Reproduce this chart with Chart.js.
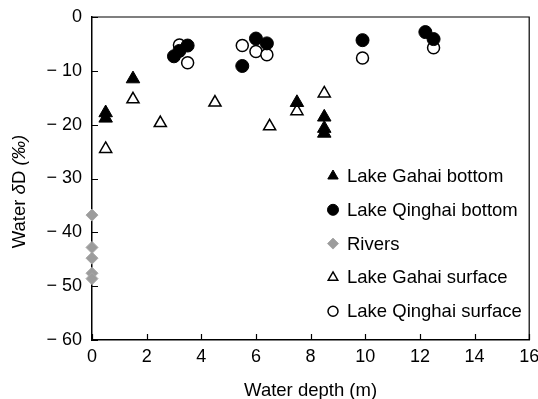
<!DOCTYPE html>
<html>
<head>
<meta charset="utf-8">
<script src="https://cdn.jsdelivr.net/npm/chart.js@4/dist/chart.umd.min.js"></script>
<style>
  html, body { margin: 0; padding: 0; background: #fff; }
  #wrap { width: 538px; height: 399px; }
</style>
</head>
<body>
<div id="wrap"><canvas id="isoChart" width="538" height="399"></canvas></div>
<script>
// data: depth (m) and water dD (per mil)
const gahaiBottomDepth = [0.5, 0.5, 1.5, 7.5, 8.5, 8.5, 8.5];
const gahaiBottomD = [-17.8, -18.8, -11.5, -15.9, -18.6, -20.7, -21.6];

const qinghaiBottomDepth = [3.0, 3.2, 3.5, 5.5, 6.0, 6.4, 9.9, 12.2, 12.5];
const qinghaiBottomD = [-7.3, -6.3, -5.3, -9.1, -4.0, -4.9, -4.3, -2.8, -4.1];

const riversDepth = [0, 0, 0, 0, 0];
const riversD = [-36.8, -42.8, -44.8, -47.6, -48.6];

const gahaiSurfaceDepth = [0.5, 1.5, 2.5, 4.5, 6.5, 7.5, 8.5];
const gahaiSurfaceD = [-24.5, -15.3, -19.7, -15.9, -20.3, -17.5, -14.2];

const qinghaiSurfaceDepth = [3.2, 3.5, 5.5, 6.0, 6.4, 9.9, 12.5];
const qinghaiSurfaceD = [-5.2, -8.5, -5.3, -6.4, -7.0, -7.6, -5.7];

const xTicks = [0, 2, 4, 6, 8, 10, 12, 14, 16];
const yTicks = [0, -10, -20, -30, -40, -50, -60];

const FONT = '"Liberation Sans", Arial, sans-serif';

function pts(xs, ys) {
    return xs.map((x, i) => ({ x: x, y: ys[i] }));
}

// inward tick marks + top/right frame
const frameTicks = {
    id: 'frameTicks',
    afterDraw(chart) {
        const { ctx, chartArea: a, scales } = chart;
        ctx.save();
        ctx.strokeStyle = '#000';
        ctx.lineWidth = 1.2;
        ctx.beginPath();
        ctx.moveTo(a.left, a.top);
        ctx.lineTo(a.right, a.top);
        ctx.lineTo(a.right, a.bottom);
        ctx.stroke();
        ctx.beginPath();
        xTicks.forEach(v => {
            const px = Math.round(scales.x.getPixelForValue(v)) + 0.5;
            ctx.moveTo(px, a.bottom);
            ctx.lineTo(px, a.bottom - 6);
        });
        yTicks.forEach(v => {
            const py = Math.round(scales.y.getPixelForValue(v)) + 0.5;
            ctx.moveTo(a.left, py);
            ctx.lineTo(a.left + 6, py);
        });
        ctx.stroke();
        ctx.restore();
    }
};

// y title with italic delta and per mil
const yTitle = {
    id: 'yTitle',
    afterDraw(chart) {
        const { ctx, chartArea: a } = chart;
        const parts = [
            ['Water ', 'normal'],
            ['\u03b4', 'italic'],
            ['D ', 'normal'],
            ['(\u2030)', 'italic']
        ];
        ctx.save();
        ctx.fillStyle = '#000';
        ctx.textBaseline = 'middle';
        ctx.textAlign = 'left';
        let total = 0;
        parts.forEach(p => {
            ctx.font = p[1] + ' 18.5px ' + FONT;
            total += ctx.measureText(p[0]).width;
        });
        ctx.translate(20, (a.top + a.bottom) / 2 + 13);
        ctx.rotate(-Math.PI / 2);
        let x = -total / 2;
        parts.forEach(p => {
            ctx.font = p[1] + ' 18.5px ' + FONT;
            ctx.fillText(p[0], x, 0);
            x += ctx.measureText(p[0]).width;
        });
        ctx.restore();
    }
};

// legend drawn inside the plot, bottom right
const innerLegend = {
    id: 'innerLegend',
    afterDraw(chart) {
        const { ctx, chartArea: a } = chart;
        ctx.save();
        ctx.font = '18.5px ' + FONT;
        ctx.textBaseline = 'middle';
        ctx.textAlign = 'left';
        chart.data.datasets.forEach((ds, i) => {
            const x = a.left + 241;
            const y = a.top + 159 + i * 33.8;
            ctx.fillStyle = ds.backgroundColor;
            ctx.strokeStyle = ds.borderColor;
            ctx.lineWidth = ds.borderWidth;
            Chart.helpers.drawPoint(ctx, {
                pointStyle: ds.pointStyle,
                radius: ds.legendRadius,
                rotation: 0,
                borderWidth: ds.borderWidth
            }, x, y);
            ctx.fillStyle = '#000';
            ctx.fillText(ds.label, x + 14, y + 1);
        });
        ctx.restore();
    }
};

const ctx = document.getElementById('isoChart').getContext('2d');

new Chart(ctx, {
    type: 'scatter',
    data: {
        datasets: [
            {
                label: 'Lake Gahai bottom',
                data: pts(gahaiBottomDepth, gahaiBottomD),
                pointStyle: 'triangle',
                pointRadius: 7.8,
                legendRadius: 6,
                backgroundColor: '#000',
                borderColor: '#000',
                borderWidth: 1,
                clip: false
            },
            {
                label: 'Lake Qinghai bottom',
                data: pts(qinghaiBottomDepth, qinghaiBottomD),
                pointStyle: 'circle',
                pointRadius: 6.5,
                legendRadius: 5.5,
                backgroundColor: '#000',
                borderColor: '#000',
                borderWidth: 1,
                clip: false
            },
            {
                label: 'Rivers',
                data: pts(riversDepth, riversD),
                pointStyle: 'rectRot',
                pointRadius: 6,
                legendRadius: 5.5,
                backgroundColor: '#9c9c9c',
                borderColor: '#a8a8a8',
                borderWidth: 1,
                clip: false
            },
            {
                label: 'Lake Gahai surface',
                data: pts(gahaiSurfaceDepth, gahaiSurfaceD),
                pointStyle: 'triangle',
                pointRadius: 7,
                legendRadius: 5.5,
                backgroundColor: '#fff',
                borderColor: '#000',
                borderWidth: 1.5,
                clip: false
            },
            {
                label: 'Lake Qinghai surface',
                data: pts(qinghaiSurfaceDepth, qinghaiSurfaceD),
                pointStyle: 'circle',
                pointRadius: 6,
                legendRadius: 5,
                backgroundColor: '#fff',
                borderColor: '#000',
                borderWidth: 1.5,
                clip: false
            }
        ]
    },
    options: {
        responsive: false,
        animation: false,
        layout: { padding: { top: 17, right: 8, left: 0, bottom: 0 } },
        plugins: {
            legend: { display: false },
            tooltip: { enabled: false }
        },
        scales: {
            x: {
                type: 'linear',
                min: 0,
                max: 16,
                afterBuildTicks: s => { s.ticks = xTicks.map(v => ({ value: v })); },
                afterFit: s => {
                    s.height = 59;
                    s.paddingLeft = 0;
                    s.paddingRight = 0;
                },
                grid: { drawOnChartArea: false, drawTicks: false },
                border: { color: '#000', width: 1.5 },
                ticks: {
                    color: '#000',
                    padding: 6,
                    maxRotation: 0,
                    font: { family: FONT, size: 18 }
                },
                title: {
                    display: true,
                    text: 'Water depth (m)',
                    color: '#000',
                    padding: { top: 4, bottom: -3 },
                    font: { family: FONT, size: 18.5 }
                }
            },
            y: {
                type: 'linear',
                min: -60,
                max: 0,
                afterBuildTicks: s => { s.ticks = yTicks.map(v => ({ value: v })); },
                afterFit: s => {
                    s.width = 92;
                    s.paddingTop = 0;
                    s.paddingBottom = 0;
                },
                grid: { drawOnChartArea: false, drawTicks: false },
                border: { color: '#000', width: 1.5 },
                ticks: {
                    color: '#000',
                    padding: 10,
                    font: { family: FONT, size: 18 },
                    callback: v => v < 0 ? '\u2212 ' + Math.abs(v) : String(v)
                },
                title: { display: false }
            }
        }
    },
    plugins: [frameTicks, yTitle, innerLegend]
});
</script>
</body>
</html>
